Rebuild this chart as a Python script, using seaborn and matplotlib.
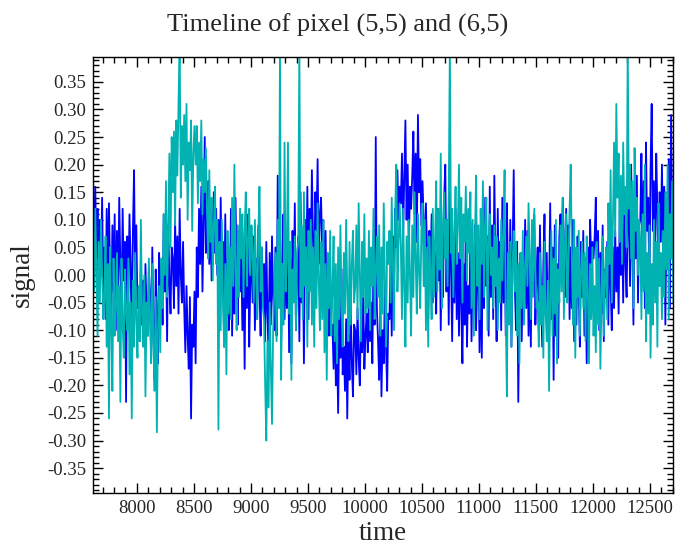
import numpy as np
import pandas as pd
import matplotlib
matplotlib.use('Agg')
import matplotlib.pyplot as plt
from matplotlib.ticker import MultipleLocator
import seaborn as sns

# frame index, one sample every 10 frames
time = np.arange(7615, 12715, 10)

# pixel (5,5), one row per 100 frames
pix55 = [
    0.19, -0.02, 0.16, 0.03, 0.12, -0.05, 0.10, 0.01, 0.14, -0.04,
    0.05, -0.08, 0.12, -0.02, 0.13, 0.00, -0.09, 0.09, -0.03, 0.11,
    -0.10, 0.08, -0.05, 0.14, 0.02, -0.07, 0.12, -0.01, 0.06, -0.23,
    0.07, -0.03, 0.11, 0.02, -0.12, 0.08, 0.19, -0.02, 0.09, -0.06,
    -0.04, -0.12, 0.03, -0.09, -0.01, -0.13, 0.02, -0.07, -0.11, 0.01,
    -0.03, -0.15, 0.05, -0.10, -0.19, 0.01, -0.08, -0.16, 0.04, -0.06,
    0.02, -0.09, 0.11, -0.03, 0.06, -0.12, 0.09, -0.01, -0.07, 0.05,
    0.03, -0.06, 0.10, -0.02, 0.07, -0.07, 0.12, 0.00, -0.05, 0.06,
    -0.06, -0.14, -0.02, -0.11, -0.17, -0.04, -0.26, -0.09, -0.13, -0.03,
    -0.16, 0.05, -0.04, 0.12, 0.02, 0.16, -0.03, 0.09, 0.25, 0.04,
    0.08, 0.17, 0.02, 0.13, -0.01, 0.10, 0.15, 0.04, 0.12, 0.00,
    0.10, -0.08, 0.14, -0.02, 0.06, -0.13, 0.11, -0.05, 0.03, -0.10,
    -0.04, 0.12, -0.11, 0.05, -0.07, 0.14, 0.00, -0.09, 0.08, -0.03,
    0.06, -0.10, 0.02, -0.17, 0.09, -0.06, 0.11, -0.13, -0.01, 0.04,
    -0.05, 0.07, -0.10, 0.03, -0.08, 0.09, -0.02, -0.11, 0.05, -0.06,
    0.02, -0.12, 0.06, -0.07, -0.13, 0.04, -0.09, 0.07, -0.04, -0.10,
    0.05, -0.11, 0.18, -0.03, 0.09, -0.13, 0.02, 0.11, -0.08, 0.04,
    -0.06, 0.10, -0.14, 0.03, -0.16, 0.08, -0.04, 0.13, -0.10, 0.01,
    0.07, -0.12, 0.15, -0.05, 0.04, -0.16, 0.10, -0.02, 0.16, -0.08,
    0.12, 0.03, 0.19, 0.06, -0.01, 0.15, 0.08, 0.21, 0.02, 0.11,
    0.14, 0.05, 0.10, -0.03, 0.08, -0.09, 0.02, -0.11, -0.04, -0.10,
    -0.09, -0.17, -0.05, -0.20, -0.12, -0.25, -0.08, -0.15, 0.01, -0.18,
    -0.13, -0.21, -0.08, -0.26, -0.11, -0.19, -0.05, -0.16, -0.22, -0.09,
    -0.10, -0.18, -0.06, -0.15, -0.20, -0.08, -0.14, -0.03, -0.17, -0.11,
    -0.07, -0.14, -0.02, -0.12, -0.05, -0.16, 0.03, -0.09, 0.25, -0.06,
    -0.12, -0.19, -0.05, -0.22, -0.10, -0.16, -0.02, -0.13, -0.21, -0.07,
    -0.08, 0.03, -0.11, 0.07, -0.02, 0.12, 0.05, 0.19, 0.10, 0.16,
    0.13, 0.22, 0.07, 0.18, 0.28, 0.10, 0.20, 0.05, 0.16, 0.12,
    0.18, 0.26, 0.11, 0.22, 0.06, 0.29, 0.15, 0.21, 0.09, 0.17,
    0.10, -0.02, 0.13, 0.04, -0.08, 0.08, -0.01, 0.11, -0.05, 0.06,
    0.03, -0.07, 0.12, -0.01, 0.08, -0.10, 0.05, -0.04, 0.14, 0.20,
    -0.03, 0.10, -0.09, 0.15, 0.02, -0.12, 0.07, -0.05, 0.12, -0.08,
    0.04, -0.11, 0.08, -0.06, -0.16, 0.02, -0.09, 0.10, -0.13, -0.02,
    -0.07, 0.06, -0.12, 0.02, -0.05, 0.09, -0.10, -0.01, 0.05, -0.14,
    0.03, -0.15, 0.11, -0.06, 0.14, -0.02, 0.07, -0.11, 0.16, -0.04,
    0.09, -0.08, 0.18, 0.01, -0.12, 0.12, -0.03, 0.06, -0.10, 0.14,
    -0.05, 0.08, -0.11, 0.13, 0.00, -0.07, 0.10, -0.13, 0.04, 0.19,
    -0.02, -0.10, 0.06, -0.23, -0.05, 0.04, -0.12, 0.01, -0.08, 0.10,
    -0.06, 0.08, -0.11, 0.03, -0.13, 0.06, -0.02, 0.11, -0.09, 0.00,
    0.05, -0.10, 0.09, -0.04, -0.13, 0.02, 0.11, -0.07, 0.04, -0.12,
    -0.03, 0.13, -0.08, 0.05, -0.19, 0.09, -0.11, 0.02, -0.15, 0.07,
    0.11, 0.03, 0.14, 0.06, -0.04, 0.12, 0.01, 0.09, -0.08, 0.05,
    -0.06, 0.10, -0.12, 0.04, -0.09, 0.07, -0.02, -0.13, 0.06, -0.04,
    0.08, -0.11, 0.03, -0.16, 0.05, -0.06, 0.10, 0.02, 0.06, 0.03,
    0.07, 0.14, -0.05, 0.08, -0.10, 0.04, -0.07, 0.09, -0.12, 0.01,
    -0.04, 0.06, -0.09, 0.10, -0.02, -0.10, 0.05, -0.06, 0.08, -0.03,
    0.05, -0.07, 0.12, 0.00, 0.09, -0.05, 0.14, 0.02, -0.04, 0.10,
    0.15, -0.02, 0.20, 0.06, -0.09, 0.12, 0.03, 0.18, -0.05, 0.09,
    0.10, 0.22, 0.01, 0.17, -0.06, 0.24, 0.08, 0.14, -0.03, 0.19,
    0.31, 0.08, 0.17, 0.03, 0.22, 0.12, -0.02, 0.15, 0.06, 0.20,
    0.05, 0.16, -0.09, 0.12, 0.01, 0.21, -0.06, 0.29, 0.08, 0.14,
]

# pixel (6,5)
pix65 = [
    0.08, -0.03, 0.12, 0.01, -0.11, 0.06, -0.05, 0.10, 0.00, -0.08,
    -0.04, 0.07, -0.13, 0.02, -0.26, 0.05, -0.09, -0.21, 0.03, -0.11,
    -0.06, 0.04, -0.12, -0.02, -0.23, 0.03, -0.09, -0.15, 0.01, -0.07,
    -0.10, 0.03, -0.18, -0.05, -0.26, -0.01, -0.13, 0.04, -0.08, -0.15,
    -0.02, -0.12, 0.10, -0.07, -0.13, 0.00, -0.22, -0.05, -0.11, 0.03,
    -0.08, -0.16, 0.02, -0.12, -0.21, -0.04, -0.285, -0.10, -0.02, -0.14,
    0.03, -0.06, 0.11, 0.00, 0.17, -0.04, 0.08, 0.22, 0.05, 0.25,
    0.15, 0.26, 0.09, 0.28, 0.18, 0.31, 0.42, 0.14, 0.27, 0.20,
    0.29, 0.17, 0.31, 0.10, 0.24, 0.19, 0.28, 0.08, 0.22, 0.27,
    0.20, 0.27, 0.13, 0.24, 0.17, 0.28, 0.11, 0.21, 0.15, 0.23,
    0.12, 0.03, 0.19, 0.06, 0.14, -0.01, 0.09, 0.16, 0.02, 0.10,
    -0.28, 0.06, -0.10, 0.10, -0.05, -0.13, 0.02, -0.18, 0.08, -0.07,
    0.05, -0.08, 0.14, -0.02, 0.20, 0.01, -0.10, 0.09, -0.04, 0.12,
    0.03, 0.11, -0.04, 0.08, 0.15, -0.02, 0.06, 0.12, 0.00, 0.09,
    0.04, -0.05, 0.10, 0.01, -0.08, 0.07, 0.16, -0.03, 0.05, -0.06,
    -0.08, -0.20, -0.30, -0.12, -0.24, -0.05, -0.17, -0.27, -0.10, -0.03,
    0.04, -0.12, 0.10, -0.06, 0.42, -0.19, 0.02, -0.09, 0.24, -0.03,
    0.03, 0.24, -0.07, 0.06, -0.19, 0.01, -0.05, 0.07, -0.10, 0.04,
    0.06, 0.42, -0.04, 0.09, -0.08, 0.15, -0.02, 0.05, -0.13, 0.08,
    -0.03, 0.10, -0.09, 0.05, -0.13, 0.08, -0.06, 0.13, -0.01, -0.10,
    0.06, -0.08, 0.10, -0.14, 0.02, -0.19, 0.04, -0.06, 0.08, -0.11,
    -0.03, 0.07, -0.12, 0.02, -0.16, 0.05, -0.08, 0.09, -0.05, -0.13,
    0.04, -0.07, 0.10, -0.03, -0.12, 0.06, -0.09, 0.02, 0.08, -0.05,
    -0.02, 0.09, -0.08, 0.13, 0.01, -0.12, 0.06, -0.04, 0.11, -0.07,
    0.03, -0.06, 0.08, -0.10, 0.05, -0.02, 0.12, -0.08, 0.01, 0.07,
    -0.04, 0.09, -0.11, 0.05, -0.07, 0.13, -0.01, -0.13, 0.06, 0.02,
    0.08, -0.05, 0.14, 0.02, -0.10, 0.11, 0.20, -0.03, 0.06, 0.13,
    0.05, -0.08, 0.12, -0.02, -0.13, 0.07, -0.05, 0.10, 0.00, -0.11,
    0.09, -0.04, 0.15, 0.03, -0.07, 0.11, 0.01, -0.06, 0.08, 0.13,
    -0.02, 0.10, -0.10, 0.05, -0.13, 0.07, 0.00, -0.08, 0.12, -0.04,
    0.06, 0.17, -0.03, 0.12, 0.01, 0.22, -0.06, 0.09, 0.15, 0.03,
    0.10, -0.02, 0.14, 0.42, 0.04, 0.12, -0.04, 0.08, 0.16, 0.02,
    0.09, 0.20, 0.03, 0.14, -0.05, 0.11, 0.06, 0.16, -0.01, 0.12,
    0.04, 0.15, -0.06, 0.10, -0.11, 0.07, 0.18, -0.02, 0.09, -0.08,
    0.12, 0.02, 0.17, -0.04, 0.09, 0.14, -0.10, 0.06, 0.11, 0.00,
    0.05, -0.06, 0.09, -0.02, 0.07, -0.10, 0.03, -0.05, 0.10, -0.01,
    0.08, 0.19, -0.07, -0.22, 0.04, -0.09, 0.06, -0.13, 0.02, 0.08,
    -0.03, 0.06, -0.11, 0.02, -0.16, 0.04, -0.06, 0.08, -0.09, 0.01,
    0.07, -0.02, 0.13, 0.03, -0.08, 0.10, -0.04, 0.12, 0.01, -0.06,
    -0.05, -0.13, 0.04, -0.09, -0.02, -0.15, 0.06, -0.07, -0.12, -0.01,
    -0.21, -0.04, 0.08, -0.11, 0.03, -0.07, 0.10, -0.16, 0.01, -0.05,
    0.09, -0.03, 0.14, -0.08, 0.06, 0.11, -0.05, 0.02, 0.12, 0.20,
    0.03, -0.09, 0.10, -0.15, 0.05, -0.04, 0.08, -0.11, 0.01, 0.06,
    -0.06, 0.04, -0.12, 0.07, -0.03, -0.16, 0.02, -0.08, 0.05, -0.11,
    -0.02, -0.14, 0.06, -0.09, 0.03, -0.17, -0.04, 0.07, -0.11, 0.00,
    0.05, -0.08, 0.13, 0.02, 0.19, -0.05, 0.10, 0.24, 0.07, 0.31,
    0.14, 0.22, 0.06, 0.18, 0.02, 0.24, 0.11, 0.16, 0.05, 0.42,
    0.12, 0.20, 0.03, 0.17, -0.06, 0.23, 0.08, 0.14, 0.00, 0.10,
    0.06, -0.08, 0.11, -0.03, 0.20, -0.12, 0.04, -0.07, 0.09, -0.15,
    0.02, -0.09, 0.10, -0.05, 0.06, -0.13, 0.13, -0.02, 0.04, -0.08,
    0.08, -0.04, 0.15, 0.01, 0.20, -0.08, 0.11, 0.03, 0.17, -0.05,
]

df = pd.DataFrame({'time': time, 'p55': pix55, 'p65': pix65})

sns.set_style('ticks')
plt.rcParams['font.family'] = ['Liberation Serif', 'DejaVu Serif']
plt.rcParams['axes.linewidth'] = 1.0

fig = plt.figure(figsize=(6.79, 5.47), dpi=100)
ax = fig.add_axes([93/679, 1 - 493/547, 580/679, 436/547])

sns.lineplot(data=df, x='time', y='p55', ax=ax, color='#0000ff', lw=1.3, estimator=None)
sns.lineplot(data=df, x='time', y='p65', ax=ax, color='#00b2b2', lw=1.3, estimator=None)

ax.set_xlim(7615, 12702)
ax.set_ylim(-0.395, 0.395)
ax.xaxis.set_major_locator(MultipleLocator(500))
ax.xaxis.set_minor_locator(MultipleLocator(100))
ax.yaxis.set_major_locator(MultipleLocator(0.05))
ax.yaxis.set_minor_locator(MultipleLocator(0.01))
ax.yaxis.set_major_formatter(plt.FuncFormatter(lambda v, p: f'{v:.2f}' if abs(v) > 1e-9 else '0.00'))
ax.tick_params(which='both', direction='in', top=True, right=True, color='black')
ax.tick_params(which='major', length=7, width=1.0, labelsize=13.5, pad=5)
ax.tick_params(which='minor', length=4, width=1.0)
for s in ax.spines.values():
    s.set_color('black')

ax.set_xlabel('time', fontsize=19.5, labelpad=3)
ax.set_ylabel('signal', fontsize=19.5, labelpad=9)
fig.suptitle('Timeline of pixel (5,5) and (6,5)', x=0.497, y=0.975, fontsize=19)

fig.savefig('out.png', dpi=100)
